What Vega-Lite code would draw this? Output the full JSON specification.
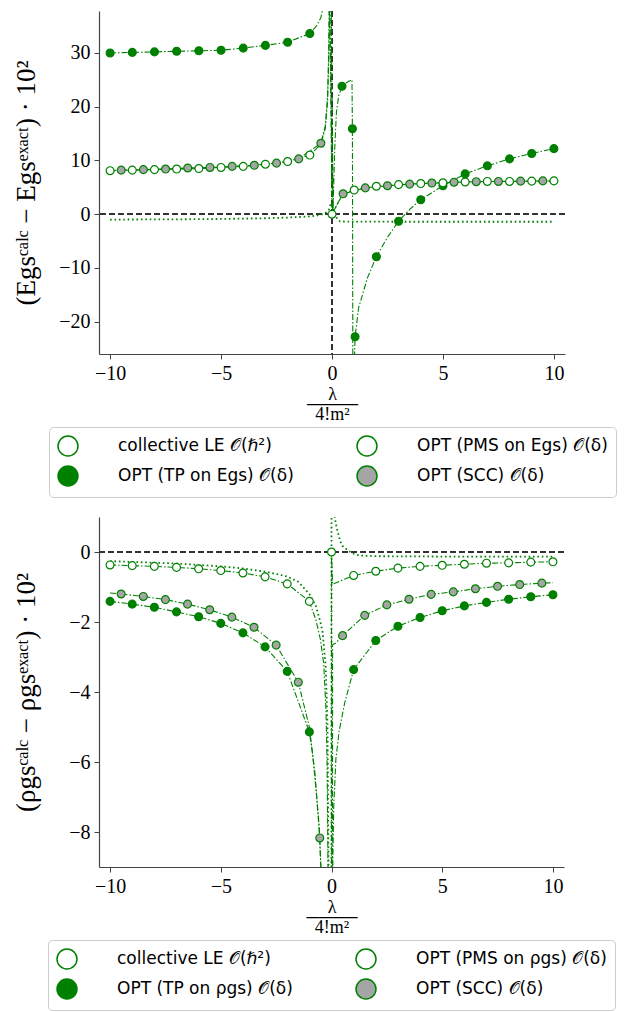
{
  "$schema": "https://vega.github.io/schema/vega-lite/v6.json",
  "background": "white",
  "padding": {"left": 12, "top": 10, "right": 0, "bottom": 0},
  "config": {
    "view": {"stroke": null},
    "axis": {"labelFont": "Liberation Serif", "labelFontSize": 20, "labelColor": "black", "titleFont": "Liberation Serif", "titleFontWeight": "normal", "titleColor": "black", "domainColor": "#444444", "domainWidth": 1.2, "tickColor": "#444444", "tickSize": 5, "grid": false, "labelPadding": 4},
    "axisY": {"titleFontSize": 27},
    "axisX": {"titleFontSize": 18, "titlePadding": 2, "titleLineHeight": 10},
    "legend": {"orient": "bottom", "offset": 4, "layout": {"bottom": {"anchor": "middle"}}, "columns": 2, "strokeColor": "#cccccc", "cornerRadius": 4, "padding": 8, "fillColor": "white", "labelFont": "DejaVu Sans", "labelFontSize": 17, "labelColor": "black", "symbolSize": 400, "symbolOpacity": 1, "columnPadding": 60, "rowPadding": 4, "labelOffset": 39, "labelLimit": 400}
  },
  "datasets": {
    "E": [
      {"s":"LE","x":-10,"y":-1.0,"m":0},{"s":"LE","x":-7,"y":-0.95,"m":0},{"s":"LE","x":-5,"y":-0.88,"m":0},{"s":"LE","x":-3,"y":-0.75,"m":0},{"s":"LE","x":-2,"y":-0.62,"m":0},{"s":"LE","x":-1.5,"y":-0.52,"m":0},{"s":"LE","x":-1,"y":-0.4,"m":0},{"s":"LE","x":-0.7,"y":-0.25,"m":0},{"s":"LE","x":-0.5,"y":-0.1,"m":0},{"s":"LE","x":-0.3,"y":0.2,"m":0},{"s":"LE","x":-0.15,"y":0.8,"m":0},{"s":"LE","x":-0.05,"y":2.0,"m":0},{"s":"LE","x":0.1,"y":0.3,"m":0},{"s":"LE","x":0.25,"y":-1.0,"m":0},{"s":"LE","x":0.37,"y":-1.35,"m":0},{"s":"LE","x":1,"y":-1.38,"m":0},{"s":"LE","x":3,"y":-1.4,"m":0},{"s":"LE","x":10,"y":-1.4,"m":0},
      {"s":"TP","x":-10,"y":30.0,"m":1},{"s":"TP","x":-9,"y":30.1,"m":1},{"s":"TP","x":-8,"y":30.2,"m":1},{"s":"TP","x":-7,"y":30.3,"m":1},{"s":"TP","x":-6,"y":30.4,"m":1},{"s":"TP","x":-5,"y":30.5,"m":1},{"s":"TP","x":-4,"y":30.9,"m":1},{"s":"TP","x":-3,"y":31.4,"m":1},{"s":"TP","x":-2,"y":32.0,"m":1},{"s":"TP","x":-1,"y":33.6,"m":1},{"s":"TP","x":-0.7,"y":35.0,"m":0},{"s":"TP","x":-0.5,"y":36.6,"m":0},{"s":"TP","x":-0.38,"y":39,"m":0},{"s":"TP","x":-0.05,"y":45,"m":0},{"s":"TP","x":0.05,"y":1.0,"m":0},{"s":"TP","x":0.12,"y":12,"m":0},{"s":"TP","x":0.2,"y":19,"m":0},{"s":"TP","x":0.3,"y":22,"m":0},{"s":"TP","x":0.45,"y":23.8,"m":1},{"s":"TP","x":0.7,"y":24.6,"m":0},{"s":"TP","x":0.9,"y":25.0,"m":0},{"s":"TP","x":0.92,"y":15.9,"m":1},{"s":"TP","x":0.94,"y":-30,"m":0},{"s":"TP","x":0.99,"y":-30,"m":0},{"s":"TP","x":1.04,"y":-22.8,"m":1},{"s":"TP","x":1.2,"y":-17.4,"m":0},{"s":"TP","x":1.6,"y":-11.8,"m":0},{"s":"TP","x":2,"y":-7.9,"m":1},{"s":"TP","x":2.5,"y":-4.3,"m":0},{"s":"TP","x":3,"y":-1.3,"m":1},{"s":"TP","x":3.5,"y":0.9,"m":0},{"s":"TP","x":4,"y":2.7,"m":1},{"s":"TP","x":5,"y":5.3,"m":1},{"s":"TP","x":6,"y":7.5,"m":1},{"s":"TP","x":7,"y":9.0,"m":1},{"s":"TP","x":8,"y":10.3,"m":1},{"s":"TP","x":9,"y":11.3,"m":1},{"s":"TP","x":10,"y":12.2,"m":1},
      {"s":"PMS","x":-10,"y":8.1,"m":1},{"s":"PMS","x":-9,"y":8.2,"m":1},{"s":"PMS","x":-8,"y":8.3,"m":1},{"s":"PMS","x":-7,"y":8.4,"m":1},{"s":"PMS","x":-6,"y":8.5,"m":1},{"s":"PMS","x":-5,"y":8.7,"m":1},{"s":"PMS","x":-4,"y":8.9,"m":1},{"s":"PMS","x":-3,"y":9.3,"m":1},{"s":"PMS","x":-2,"y":9.8,"m":1},{"s":"PMS","x":-1,"y":11.0,"m":1},{"s":"PMS","x":-0.5,"y":13.0,"m":0},{"s":"PMS","x":-0.3,"y":16,"m":0},{"s":"PMS","x":-0.2,"y":21,"m":0},{"s":"PMS","x":-0.15,"y":28,"m":0},{"s":"PMS","x":-0.1,"y":42,"m":0},{"s":"PMS","x":0,"y":0,"m":1},{"s":"PMS","x":0.5,"y":3.9,"m":0},{"s":"PMS","x":1,"y":4.5,"m":1},{"s":"PMS","x":2,"y":5.2,"m":1},{"s":"PMS","x":3,"y":5.5,"m":1},{"s":"PMS","x":4,"y":5.7,"m":1},{"s":"PMS","x":5,"y":5.85,"m":1},{"s":"PMS","x":6,"y":6.0,"m":1},{"s":"PMS","x":7,"y":6.1,"m":1},{"s":"PMS","x":8,"y":6.1,"m":1},{"s":"PMS","x":9,"y":6.15,"m":1},{"s":"PMS","x":10,"y":6.2,"m":1},
      {"s":"SCC","x":-10,"y":8.1,"m":0},{"s":"SCC","x":-9.5,"y":8.2,"m":1},{"s":"SCC","x":-8.5,"y":8.3,"m":1},{"s":"SCC","x":-7.5,"y":8.4,"m":1},{"s":"SCC","x":-6.5,"y":8.6,"m":1},{"s":"SCC","x":-5.5,"y":8.7,"m":1},{"s":"SCC","x":-4.5,"y":8.9,"m":1},{"s":"SCC","x":-3.5,"y":9.1,"m":1},{"s":"SCC","x":-2.5,"y":9.5,"m":1},{"s":"SCC","x":-1.5,"y":10.3,"m":1},{"s":"SCC","x":-0.5,"y":13.2,"m":1},{"s":"SCC","x":-0.3,"y":16.5,"m":0},{"s":"SCC","x":-0.2,"y":22,"m":0},{"s":"SCC","x":-0.15,"y":30,"m":0},{"s":"SCC","x":-0.12,"y":42,"m":0},{"s":"SCC","x":0.03,"y":0.3,"m":0},{"s":"SCC","x":0.5,"y":3.8,"m":1},{"s":"SCC","x":1.5,"y":4.9,"m":1},{"s":"SCC","x":2.5,"y":5.3,"m":1},{"s":"SCC","x":3.5,"y":5.6,"m":1},{"s":"SCC","x":4.5,"y":5.8,"m":1},{"s":"SCC","x":5.5,"y":5.95,"m":1},{"s":"SCC","x":6.5,"y":6.05,"m":1},{"s":"SCC","x":7.5,"y":6.1,"m":1},{"s":"SCC","x":8.5,"y":6.15,"m":1},{"s":"SCC","x":9.5,"y":6.2,"m":1},{"s":"SCC","x":10,"y":6.2,"m":0}
    ],
    "R": [
      {"s":"LE","x":-10,"y":-0.26,"m":0},{"s":"LE","x":-7,"y":-0.33,"m":0},{"s":"LE","x":-5,"y":-0.41,"m":0},{"s":"LE","x":-4,"y":-0.47,"m":0},{"s":"LE","x":-3,"y":-0.56,"m":0},{"s":"LE","x":-2,"y":-0.7,"m":0},{"s":"LE","x":-1.5,"y":-0.85,"m":0},{"s":"LE","x":-1,"y":-1.2,"m":0},{"s":"LE","x":-0.7,"y":-1.55,"m":0},{"s":"LE","x":-0.5,"y":-2.0,"m":0},{"s":"LE","x":-0.4,"y":-2.3,"m":0},{"s":"LE","x":-0.26,"y":-3.3,"m":0},{"s":"LE","x":-0.18,"y":-5,"m":0},{"s":"LE","x":-0.13,"y":-9.5,"m":0},{"s":"LE","x":-0.01,"y":-60,"m":0},{"s":"LE","x":0.01,"y":60,"m":0},{"s":"LE","x":0.12,"y":1.1,"m":0},{"s":"LE","x":0.2,"y":0.8,"m":0},{"s":"LE","x":0.27,"y":0.6,"m":0},{"s":"LE","x":0.4,"y":0.3,"m":0},{"s":"LE","x":0.5,"y":0.17,"m":0},{"s":"LE","x":0.78,"y":0.03,"m":0},{"s":"LE","x":1,"y":-0.05,"m":0},{"s":"LE","x":1.25,"y":-0.1,"m":0},{"s":"LE","x":2,"y":-0.12,"m":0},{"s":"LE","x":5,"y":-0.13,"m":0},{"s":"LE","x":10,"y":-0.13,"m":0},
      {"s":"PMS","x":-10,"y":-0.37,"m":1},{"s":"PMS","x":-9,"y":-0.39,"m":1},{"s":"PMS","x":-8,"y":-0.41,"m":1},{"s":"PMS","x":-7,"y":-0.44,"m":1},{"s":"PMS","x":-6,"y":-0.48,"m":1},{"s":"PMS","x":-5,"y":-0.53,"m":1},{"s":"PMS","x":-4,"y":-0.6,"m":1},{"s":"PMS","x":-3,"y":-0.71,"m":1},{"s":"PMS","x":-2,"y":-0.91,"m":1},{"s":"PMS","x":-1,"y":-1.41,"m":1},{"s":"PMS","x":-0.7,"y":-1.95,"m":0},{"s":"PMS","x":-0.5,"y":-2.5,"m":0},{"s":"PMS","x":-0.35,"y":-3.2,"m":0},{"s":"PMS","x":-0.25,"y":-4.5,"m":0},{"s":"PMS","x":-0.2,"y":-6,"m":0},{"s":"PMS","x":-0.15,"y":-9.5,"m":0},{"s":"PMS","x":-0.01,"y":-60,"m":0},{"s":"PMS","x":0,"y":0,"m":1},{"s":"PMS","x":0.05,"y":-0.92,"m":0},{"s":"PMS","x":1,"y":-0.67,"m":1},{"s":"PMS","x":2,"y":-0.55,"m":1},{"s":"PMS","x":3,"y":-0.46,"m":1},{"s":"PMS","x":4,"y":-0.41,"m":1},{"s":"PMS","x":5,"y":-0.38,"m":1},{"s":"PMS","x":6,"y":-0.35,"m":1},{"s":"PMS","x":7,"y":-0.32,"m":1},{"s":"PMS","x":8,"y":-0.31,"m":1},{"s":"PMS","x":9,"y":-0.29,"m":1},{"s":"PMS","x":10,"y":-0.28,"m":1},
      {"s":"TP","x":-10,"y":-1.41,"m":1},{"s":"TP","x":-9,"y":-1.49,"m":1},{"s":"TP","x":-8,"y":-1.58,"m":1},{"s":"TP","x":-7,"y":-1.71,"m":1},{"s":"TP","x":-6,"y":-1.85,"m":1},{"s":"TP","x":-5,"y":-2.04,"m":1},{"s":"TP","x":-4,"y":-2.31,"m":1},{"s":"TP","x":-3,"y":-2.71,"m":1},{"s":"TP","x":-2,"y":-3.41,"m":1},{"s":"TP","x":-1,"y":-5.14,"m":1},{"s":"TP","x":-0.86,"y":-5.75,"m":0},{"s":"TP","x":-0.71,"y":-6.7,"m":0},{"s":"TP","x":-0.56,"y":-7.8,"m":0},{"s":"TP","x":-0.45,"y":-9.5,"m":0},{"s":"TP","x":-0.01,"y":-60,"m":0},{"s":"TP","x":0.01,"y":-60,"m":0},{"s":"TP","x":0.05,"y":-9.2,"m":0},{"s":"TP","x":0.1,"y":-7.3,"m":0},{"s":"TP","x":0.2,"y":-5.9,"m":0},{"s":"TP","x":0.35,"y":-5.1,"m":0},{"s":"TP","x":0.6,"y":-4.3,"m":0},{"s":"TP","x":1,"y":-3.36,"m":1},{"s":"TP","x":2,"y":-2.53,"m":1},{"s":"TP","x":3,"y":-2.12,"m":1},{"s":"TP","x":4,"y":-1.87,"m":1},{"s":"TP","x":5,"y":-1.68,"m":1},{"s":"TP","x":6,"y":-1.54,"m":1},{"s":"TP","x":7,"y":-1.44,"m":1},{"s":"TP","x":8,"y":-1.35,"m":1},{"s":"TP","x":9,"y":-1.28,"m":1},{"s":"TP","x":10,"y":-1.22,"m":1},
      {"s":"SCC","x":-10,"y":-1.17,"m":0},{"s":"SCC","x":-9.5,"y":-1.2,"m":1},{"s":"SCC","x":-8.5,"y":-1.27,"m":1},{"s":"SCC","x":-7.5,"y":-1.36,"m":1},{"s":"SCC","x":-6.5,"y":-1.49,"m":1},{"s":"SCC","x":-5.5,"y":-1.65,"m":1},{"s":"SCC","x":-4.5,"y":-1.86,"m":1},{"s":"SCC","x":-3.5,"y":-2.15,"m":1},{"s":"SCC","x":-2.5,"y":-2.66,"m":1},{"s":"SCC","x":-1.5,"y":-3.72,"m":1},{"s":"SCC","x":-1,"y":-5.0,"m":0},{"s":"SCC","x":-0.75,"y":-6.3,"m":0},{"s":"SCC","x":-0.53,"y":-8.17,"m":1},{"s":"SCC","x":-0.45,"y":-9.5,"m":0},{"s":"SCC","x":-0.01,"y":-60,"m":0},{"s":"SCC","x":0.005,"y":-60,"m":0},{"s":"SCC","x":0.05,"y":-2.65,"m":0},{"s":"SCC","x":0.2,"y":-2.6,"m":0},{"s":"SCC","x":0.5,"y":-2.39,"m":1},{"s":"SCC","x":1.5,"y":-1.81,"m":1},{"s":"SCC","x":2.5,"y":-1.51,"m":1},{"s":"SCC","x":3.5,"y":-1.35,"m":1},{"s":"SCC","x":4.5,"y":-1.21,"m":1},{"s":"SCC","x":5.5,"y":-1.14,"m":1},{"s":"SCC","x":6.5,"y":-1.05,"m":1},{"s":"SCC","x":7.5,"y":-0.98,"m":1},{"s":"SCC","x":8.5,"y":-0.93,"m":1},{"s":"SCC","x":9.5,"y":-0.89,"m":1},{"s":"SCC","x":10,"y":-0.88,"m":0}
    ]
  },
  "columns": 1,
  "spacing": 19,
  "resolve": {"scale": {"fill": "independent"}, "legend": {"fill": "independent"}},
  "concat": [
    {
      "width": 466,
      "height": 343,
      "data": {"name": "E"},
      "layer": [
        {"mark": {"type": "rule", "color": "#333333", "strokeDash": [6, 3], "strokeWidth": 1.2}, "encoding": {"x": {"datum": 0, "type": "quantitative"}}},
        {"mark": {"type": "rule", "color": "#333333", "strokeDash": [6, 3], "strokeWidth": 1.2}, "encoding": {"y": {"datum": 0, "type": "quantitative"}}},
        {
          "transform": [{"filter": "datum.s == 'LE'"}],
          "mark": {"type": "line", "color": "#008000", "strokeDash": [1.6, 2.8], "strokeWidth": 1.8, "clip": true},
          "encoding": {
            "x": {"field": "x", "type": "quantitative", "scale": {"domain": [-10.5, 10.5], "nice": false, "zero": false}, "axis": {"values": [-10, -5, 0, 5, 10], "title": ["λ", "────", "4!m²"]}},
            "y": {"field": "y", "type": "quantitative", "scale": {"domain": [-26, 37.8], "nice": false, "zero": false}, "axis": {"values": [-20, -10, 0, 10, 20, 30], "title": "(Egsᶜᵃˡᶜ − Egsᵉˣᵃᶜᵗ) · 10²", "titlePadding": 18}}
          }
        },
        {
          "transform": [{"filter": "datum.s != 'LE'"}],
          "mark": {"type": "line", "color": "#008000", "strokeDash": [6, 2, 1.5, 2], "strokeWidth": 1.1, "clip": true},
          "encoding": {"x": {"field": "x", "type": "quantitative"}, "y": {"field": "y", "type": "quantitative"}, "detail": {"field": "s"}}
        },
        {
          "transform": [{"filter": "datum.m == 1 && datum.s == 'TP'"}],
          "mark": {"type": "point", "shape": "circle", "size": 62, "stroke": "#008000", "fill": "#008000", "strokeWidth": 1.2, "filled": true, "opacity": 1, "clip": true},
          "encoding": {"x": {"field": "x", "type": "quantitative"}, "y": {"field": "y", "type": "quantitative"}}
        },
        {
          "transform": [{"filter": "datum.m == 1 && datum.s == 'PMS'"}],
          "mark": {"type": "point", "shape": "circle", "size": 62, "stroke": "#008000", "fill": "white", "strokeWidth": 1.2, "filled": true, "opacity": 1, "clip": true},
          "encoding": {"x": {"field": "x", "type": "quantitative"}, "y": {"field": "y", "type": "quantitative"}}
        },
        {
          "transform": [{"filter": "datum.m == 1 && datum.s == 'SCC'"}],
          "mark": {"type": "point", "shape": "circle", "size": 62, "stroke": "#008000", "fill": "#a5a5a5", "strokeWidth": 1.2, "filled": true, "opacity": 1, "clip": true},
          "encoding": {"x": {"field": "x", "type": "quantitative"}, "y": {"field": "y", "type": "quantitative"}}
        },
        {
          "transform": [{"filter": "datum.x > 100"}],
          "mark": {"type": "point", "stroke": "#008000", "strokeWidth": 1.2, "filled": true, "opacity": 1},
          "encoding": {"x": {"field": "x", "type": "quantitative"}, "y": {"field": "y", "type": "quantitative"},
            "fill": {"field": "s", "type": "nominal", "scale": {"domain": ["LE", "PMS", "TP", "SCC"], "range": ["transparent", "white", "#008000", "#a5a5a5"]},
              "legend": {"title": null, "orient": "bottom",
                "labelExpr": "{'LE': 'collective LE 𝒪(ℏ²)', 'PMS': 'OPT (PMS on Egs) 𝒪(δ)', 'TP': 'OPT (TP on Egs) 𝒪(δ)', 'SCC': 'OPT (SCC) 𝒪(δ)'}[datum.label]",
                "encode": {"symbols": {
                  "shape": {"condition": {"test": "datum.value == 'LE'", "value": "M-1,0H-0.85M-0.4,0H-0.25M0.2,0H0.35M0.8,0H0.95M1.4,0H1.55M2,0H2.15M2.6,0H2.75M3.15,0H3.3"}, "value": "M-1,0H-0.4M-0.2,0H-0.1M0.1,0H0.7M1.6,0H2.2M2.4,0H2.5M2.7,0H3.3M1.6,0A0.45,0.45,0,1,1,0.7,0A0.45,0.45,0,1,1,1.6,0Z"},
                  "size": {"value": 400},
                  "stroke": {"value": "#008000"},
                  "strokeWidth": {"condition": {"test": "datum.value == 'LE'", "value": 1.8}, "value": 1.2},
                  "opacity": {"value": 1}
                }}}}
          }
        }
      ]
    },
    {
      "width": 465,
      "height": 350,
      "data": {"name": "R"},
      "layer": [
        {"mark": {"type": "rule", "color": "#333333", "strokeDash": [6, 3], "strokeWidth": 1.2}, "encoding": {"y": {"datum": 0, "type": "quantitative"}}},
        {
          "transform": [{"filter": "datum.s == 'LE'"}],
          "mark": {"type": "line", "color": "#008000", "strokeDash": [1.6, 2.8], "strokeWidth": 1.8, "clip": true},
          "encoding": {
            "x": {"field": "x", "type": "quantitative", "scale": {"domain": [-10.5, 10.5], "nice": false, "zero": false}, "axis": {"values": [-10, -5, 0, 5, 10], "title": ["λ", "────", "4!m²"]}},
            "y": {"field": "y", "type": "quantitative", "scale": {"domain": [-9, 1], "nice": false, "zero": false}, "axis": {"values": [-8, -6, -4, -2, 0], "title": "(ρgsᶜᵃˡᶜ − ρgsᵉˣᵃᶜᵗ) · 10²", "titlePadding": 28}}
          }
        },
        {
          "transform": [{"filter": "datum.s != 'LE'"}],
          "mark": {"type": "line", "color": "#008000", "strokeDash": [6, 2, 1.5, 2], "strokeWidth": 1.1, "clip": true},
          "encoding": {"x": {"field": "x", "type": "quantitative"}, "y": {"field": "y", "type": "quantitative"}, "detail": {"field": "s"}}
        },
        {
          "transform": [{"filter": "datum.m == 1 && datum.s == 'TP'"}],
          "mark": {"type": "point", "shape": "circle", "size": 62, "stroke": "#008000", "fill": "#008000", "strokeWidth": 1.2, "filled": true, "opacity": 1, "clip": true},
          "encoding": {"x": {"field": "x", "type": "quantitative"}, "y": {"field": "y", "type": "quantitative"}}
        },
        {
          "transform": [{"filter": "datum.m == 1 && datum.s == 'PMS'"}],
          "mark": {"type": "point", "shape": "circle", "size": 62, "stroke": "#008000", "fill": "white", "strokeWidth": 1.2, "filled": true, "opacity": 1, "clip": true},
          "encoding": {"x": {"field": "x", "type": "quantitative"}, "y": {"field": "y", "type": "quantitative"}}
        },
        {
          "transform": [{"filter": "datum.m == 1 && datum.s == 'SCC'"}],
          "mark": {"type": "point", "shape": "circle", "size": 62, "stroke": "#008000", "fill": "#a5a5a5", "strokeWidth": 1.2, "filled": true, "opacity": 1, "clip": true},
          "encoding": {"x": {"field": "x", "type": "quantitative"}, "y": {"field": "y", "type": "quantitative"}}
        },
        {
          "transform": [{"filter": "datum.x > 100"}],
          "mark": {"type": "point", "stroke": "#008000", "strokeWidth": 1.2, "filled": true, "opacity": 1},
          "encoding": {"x": {"field": "x", "type": "quantitative"}, "y": {"field": "y", "type": "quantitative"},
            "fill": {"field": "s", "type": "nominal", "scale": {"domain": ["LE", "PMS", "TP", "SCC"], "range": ["transparent", "white", "#008000", "#a5a5a5"]},
              "legend": {"title": null, "orient": "bottom",
                "labelExpr": "{'LE': 'collective LE 𝒪(ℏ²)', 'PMS': 'OPT (PMS on ρgs) 𝒪(δ)', 'TP': 'OPT (TP on ρgs) 𝒪(δ)', 'SCC': 'OPT (SCC) 𝒪(δ)'}[datum.label]",
                "encode": {"symbols": {
                  "shape": {"condition": {"test": "datum.value == 'LE'", "value": "M-1,0H-0.85M-0.4,0H-0.25M0.2,0H0.35M0.8,0H0.95M1.4,0H1.55M2,0H2.15M2.6,0H2.75M3.15,0H3.3"}, "value": "M-1,0H-0.4M-0.2,0H-0.1M0.1,0H0.7M1.6,0H2.2M2.4,0H2.5M2.7,0H3.3M1.6,0A0.45,0.45,0,1,1,0.7,0A0.45,0.45,0,1,1,1.6,0Z"},
                  "size": {"value": 400},
                  "stroke": {"value": "#008000"},
                  "strokeWidth": {"condition": {"test": "datum.value == 'LE'", "value": 1.8}, "value": 1.2},
                  "opacity": {"value": 1}
                }}}}
          }
        }
      ]
    }
  ]
}
